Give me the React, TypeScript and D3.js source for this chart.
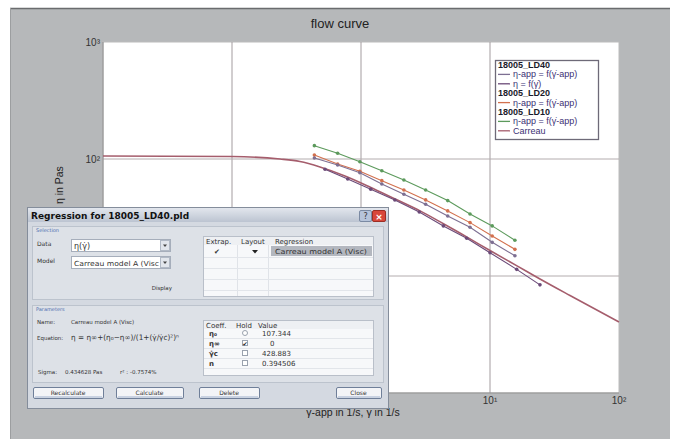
import React from 'react'
import * as d3 from 'd3'

// flow curve data (shear rate in 1/s, viscosity in Pa s)
const shearApp = [0.435, 0.659, 0.98, 1.45, 2.15, 3.17, 4.7, 7.0, 10.4, 15.6]
const etaLD10 = [130, 112, 94.8, 79.4, 66.2, 54.4, 44.1, 33.9, 26.8, 20.2]
const etaLD20 = [108, 90.6, 78.5, 65.3, 54.4, 44.7, 36.0, 28.6, 22.0, 16.9]
const etaLD40App = [102, 88.9, 76.4, 61.1, 50.0, 41.0, 32.6, 26.1, 19.4, 14.9]
const shearLD40True = [0.526, 0.789, 1.19, 1.83, 2.83, 4.35, 6.6, 10.0, 16.1, 24.4]
const etaLD40True = [81.7, 67.5, 55.1, 44.6, 35.2, 26.8, 21.0, 15.8, 11.4, 8.4]
const carreauShear = [0.01, 0.1, 0.236, 0.336, 0.481, 0.751, 1.17, 1.84, 2.87, 4.32, 6.64, 10, 16.2, 24.4, 41.7, 100]
const carreauEta = [106, 105, 100, 95.2, 85.5, 71.6, 57.7, 45.5, 36.0, 28.1, 21.5, 16.5, 12.2, 9.43, 6.81, 4.04]

// the 10^-2 corner label sits under the dialog, only the decades that show are labelled
const xGridExps = [-1, 0, 1]
const xTickExps = [-1, 0, 1, 2]
const yGridExps = [1, 2]
const yTickExps = [1, 2, 3]

const coeffNames = ['η₀', 'η∞', 'γ̇c', 'n']
const coeffHold = ['radio', 'checked', 'box', 'box']
const coeffValues = ['107.344', '0', '428.883', '0.394506']

const COLOR_LD10 = '#5c9a5c'
const COLOR_LD20 = '#d2704e'
const COLOR_LD40_APP = '#7d6f92'
const COLOR_LD40 = '#6b4a78'
const COLOR_CARREAU = '#a55d6c'

const PLOT = { left: 103, right: 619, top: 42, bottom: 393 }

const SUP: Record<string, string> = { '-': '⁻', '0': '⁰', '1': '¹', '2': '²', '3': '³' }
const sup = (n: number) => String(n).split('').map((c) => SUP[c]).join('')

const series = [
  { x: shearApp, y: etaLD10, color: COLOR_LD10 },
  { x: shearApp, y: etaLD20, color: COLOR_LD20 },
  { x: shearApp, y: etaLD40App, color: COLOR_LD40_APP },
  { x: shearLD40True, y: etaLD40True, color: COLOR_LD40 },
]

const legendRows = [
  { text: '18005_LD40', header: true, color: '' },
  { text: 'η-app = f(γ̇-app)', header: false, color: COLOR_LD40_APP },
  { text: 'η = f(γ̇)', header: false, color: COLOR_LD40 },
  { text: '18005_LD20', header: true, color: '' },
  { text: 'η-app = f(γ̇-app)', header: false, color: COLOR_LD20 },
  { text: '18005_LD10', header: true, color: '' },
  { text: 'η-app = f(γ̇-app)', header: false, color: COLOR_LD10 },
  { text: 'Carreau', header: false, color: COLOR_CARREAU },
]

const FONT = "'Liberation Sans', Arial, sans-serif"
const UI = "'DejaVu Sans', Tahoma, sans-serif"

function Chart() {
  const x = d3.scaleLog().domain([0.01, 100]).range([PLOT.left, PLOT.right])
  const y = d3.scaleLog().domain([1, 1000]).range([PLOT.bottom, PLOT.top])
  const line = d3.line<[number, number]>()
    .x((d) => x(d[0]))
    .y((d) => y(d[1]))
  const smooth = d3.line<[number, number]>()
    .x((d) => x(d[0]))
    .y((d) => y(d[1]))
    .curve(d3.curveMonotoneX)
  const carreau = carreauShear.map((g, i) => [g, carreauEta[i]] as [number, number])

  return (<g>
    <rect x={10} y={8} width={660} height={431} fill={'#b6b8ba'} />
    <line x1={10} x2={670} y1={8.5} y2={8.5} stroke={'#6a6c6e'} strokeWidth={1.5} />
    <line x1={10.5} x2={10.5} y1={8} y2={439} stroke={'#9c9ea0'} />
    <text x={340} y={28} textAnchor={'middle'} fontFamily={FONT} fontSize={13} fill={'#222'}>flow curve</text>

    <rect x={PLOT.left} y={PLOT.top} width={PLOT.right - PLOT.left} height={PLOT.bottom - PLOT.top}
      fill={'#fff'} stroke={'#bcbcbc'} />

    {xGridExps.map((e) => (
      <line key={'gx' + e} x1={x(10 ** e)} x2={x(10 ** e)} y1={PLOT.top} y2={PLOT.bottom}
        stroke={'#a39c9f'} strokeWidth={1} />
    ))}
    {yGridExps.map((e) => (
      <line key={'gy' + e} x1={PLOT.left} x2={PLOT.right} y1={y(10 ** e)} y2={y(10 ** e)}
        stroke={'#b3acae'} strokeWidth={1} />
    ))}
    <line x1={PLOT.left} x2={PLOT.right} y1={PLOT.bottom} y2={PLOT.bottom} stroke={'#8f8f8f'} />
    <line x1={PLOT.left} x2={PLOT.left} y1={PLOT.top} y2={PLOT.bottom} stroke={'#8f8f8f'} />

    {xTickExps.map((e) => (
      <text key={'tx' + e} x={x(10 ** e)} y={404} textAnchor={'middle'} fontFamily={FONT}
        fontSize={10} fill={'#333'}>{'10' + sup(e)}</text>
    ))}
    {yTickExps.map((e) => (
      <text key={'ty' + e} x={PLOT.left - 3} y={y(10 ** e) + 4} textAnchor={'end'} fontFamily={FONT}
        fontSize={10} fill={'#333'}>{'10' + sup(e)}</text>
    ))}
    <text x={353} y={416} textAnchor={'middle'} fontFamily={FONT} fontSize={10.5} fill={'#222'}>
      γ̇-app in 1/s, γ̇ in 1/s
    </text>
    <text transform={`translate(63,${(PLOT.top + PLOT.bottom) / 2}) rotate(-90)`} textAnchor={'middle'}
      fontFamily={FONT} fontSize={10.5} fill={'#222'}>η-app in Pas, η in Pas</text>

    <path d={smooth(carreau) || ''} fill={'none'} stroke={COLOR_CARREAU} strokeWidth={1.6} />
    {series.map((s, si) => {
      const pts = s.x.map((g, i) => [g, s.y[i]] as [number, number])
      return (<g key={'s' + si}>
        <path d={line(pts) || ''} fill={'none'} stroke={s.color} strokeWidth={1.1} />
        {pts.map((p, i) => (
          <circle key={i} cx={x(p[0])} cy={y(p[1])} r={1.8} fill={s.color} />
        ))}
      </g>)
    })}

    <rect x={495.5} y={60.5} width={103} height={79} fill={'#fff'} stroke={'#6e6a78'} strokeWidth={1.3} />
    {legendRows.map((r, i) => {
      const ry = 68 + i * 9.4
      if (r.header) {
        return (<text key={i} x={498} y={ry} fontFamily={FONT} fontSize={9} fontWeight={'bold'}
          fill={'#1a1a2a'}>{r.text}</text>)
      }
      return (<g key={i}>
        <line x1={498} x2={510} y1={ry - 3} y2={ry - 3} stroke={r.color} strokeWidth={1.3} />
        <text x={513} y={ry} fontFamily={FONT} fontSize={9} fill={'#3b2f74'}>{r.text}</text>
      </g>)
    })}
  </g>)
}

function Button({ x, w, label }: { x: number, w: number, label: string }) {
  return (<g>
    <rect x={x + 0.5} y={387.5} width={w} height={11} rx={1.5} fill={'#f3f4f7'} stroke={'#6f7f99'} />
    <line x1={x + 2} x2={x + w - 1} y1={397} y2={397} stroke={'#9fb0cc'} />
    <text x={x + w / 2} y={395} textAnchor={'middle'} fontFamily={UI} fontSize={6} fill={'#333'}>{label}</text>
  </g>)
}

function Dialog() {
  const rowLines1 = [257, 268, 279, 290]
  const rowY2 = [335, 345, 355, 365]
  return (<g>
    <rect x={27.5} y={207.5} width={361} height={201} fill={'#d4d9e1'} stroke={'#848d9b'} />
    <defs>
      <linearGradient id={'tb'} x1={0} x2={0} y1={0} y2={1}>
        <stop offset={'0%'} stopColor={'#e2e6ed'} />
        <stop offset={'100%'} stopColor={'#bcc4d1'} />
      </linearGradient>
    </defs>
    <rect x={28} y={208} width={360} height={14} fill={'url(#tb)'} />
    <text x={31} y={219} fontFamily={UI} fontSize={9} fontWeight={'bold'} fill={'#111'}>
      Regression for 18005_LD40.pld
    </text>
    <rect x={359.5} y={210.5} width={12} height={11} rx={1.5} fill={'#b7c4da'} stroke={'#7b8aa3'} />
    <text x={365.5} y={219} textAnchor={'middle'} fontFamily={UI} fontSize={8} fill={'#333'}>?</text>
    <rect x={372.5} y={210.5} width={13} height={11} rx={1.5} fill={'#d8473b'} stroke={'#9c2e24'} />
    <text x={379} y={219.5} textAnchor={'middle'} fontFamily={UI} fontSize={9} fontWeight={'bold'} fill={'#fff'}>×</text>

    {/* selection group */}
    <rect x={32.5} y={226.5} width={351} height={73} fill={'#dde1e7'} stroke={'#bcc3cd'} />
    <text x={36} y={232} fontFamily={UI} fontSize={5} fill={'#4b6cae'}>Selection</text>
    <text x={37} y={246} fontFamily={UI} fontSize={6} fill={'#333'}>Data</text>
    <rect x={71.5} y={239.5} width={99} height={12} fill={'#fff'} stroke={'#a6aebb'} />
    <text x={74} y={248.5} fontFamily={UI} fontSize={8} fill={'#333'}>η(γ̇)</text>
    <rect x={160.5} y={240.5} width={9} height={10} fill={'#e2e6ec'} stroke={'#b2bac6'} />
    <path d={'M163,244.5 L167,244.5 L165,247 Z'} fill={'#444'} />
    <text x={37} y={263} fontFamily={UI} fontSize={6} fill={'#333'}>Model</text>
    <rect x={71.5} y={256.5} width={99} height={12} fill={'#fff'} stroke={'#a6aebb'} />
    <text x={74} y={265.5} fontFamily={UI} fontSize={7} fill={'#333'} textLength={85}
      lengthAdjust={'spacingAndGlyphs'}>Carreau model A (Visc</text>
    <rect x={160.5} y={257.5} width={9} height={10} fill={'#e2e6ec'} stroke={'#b2bac6'} />
    <path d={'M163,261.5 L167,261.5 L165,264 Z'} fill={'#444'} />
    <text x={172} y={290} textAnchor={'end'} fontFamily={UI} fontSize={5.5} fill={'#333'}>Display</text>

    <rect x={203.5} y={236.5} width={170} height={60} fill={'#f7f8fa'} stroke={'#b9bfc9'} />
    <rect x={204} y={237} width={169} height={8} fill={'#eef0f3'} />
    <text x={206} y={243.5} fontFamily={UI} fontSize={7} fill={'#333'}>Extrap.</text>
    <text x={241} y={243.5} fontFamily={UI} fontSize={7} fill={'#333'}>Layout</text>
    <text x={275} y={243.5} fontFamily={UI} fontSize={7} fill={'#333'}>Regression</text>
    <line x1={237.5} x2={237.5} y1={245} y2={296} stroke={'#e0e3e8'} />
    <line x1={268.5} x2={268.5} y1={245} y2={296} stroke={'#e0e3e8'} />
    {rowLines1.map((ly) => (
      <line key={ly} x1={204} x2={373} y1={ly + 0.5} y2={ly + 0.5} stroke={'#e2e5ea'} />
    ))}
    <text x={214} y={254} fontFamily={UI} fontSize={7} fill={'#333'}>✔</text>
    <path d={'M252,250 L258,250 L255,253.5 Z'} fill={'#222'} />
    <rect x={271} y={246} width={101} height={10} fill={'#b3b7bf'} />
    <text x={275} y={254} fontFamily={UI} fontSize={7} fill={'#333'} textLength={92}
      lengthAdjust={'spacingAndGlyphs'}>Carreau model A (Visc)</text>

    {/* parameters group */}
    <rect x={32.5} y={305.5} width={351} height={77} fill={'#dde1e7'} stroke={'#bcc3cd'} />
    <text x={36} y={311} fontFamily={UI} fontSize={5} fill={'#4b6cae'}>Parameters</text>
    <text x={37} y={324} fontFamily={UI} fontSize={5.5} fill={'#333'}>Name:</text>
    <text x={71} y={324} fontFamily={UI} fontSize={5.5} fill={'#333'}>Carreau model A (Visc)</text>
    <text x={37} y={340} fontFamily={UI} fontSize={5.5} fill={'#333'}>Equation:</text>
    <text x={71} y={340} fontFamily={UI} fontSize={7.5} fill={'#333'} textLength={108}
      lengthAdjust={'spacingAndGlyphs'}>η = η∞+(η₀−η∞)/(1+(γ̇/γ̇c)²)ⁿ</text>
    <text x={38} y={374} fontFamily={UI} fontSize={5.5} fill={'#333'}>Sigma:</text>
    <text x={65} y={374} fontFamily={UI} fontSize={5.5} fill={'#333'}>0.434628 Pas</text>
    <text x={120} y={374} fontFamily={UI} fontSize={5.5} fill={'#333'}>r² :</text>
    <text x={130} y={374} fontFamily={UI} fontSize={5.5} fill={'#333'}>-0.7574%</text>

    <rect x={203.5} y={320.5} width={170} height={55} fill={'#f7f8fa'} stroke={'#b9bfc9'} />
    <rect x={204} y={321} width={169} height={8} fill={'#eef0f3'} />
    <text x={206} y={327.5} fontFamily={UI} fontSize={7} fill={'#333'}>Coeff.</text>
    <text x={236} y={327.5} fontFamily={UI} fontSize={7} fill={'#333'}>Hold</text>
    <text x={258} y={327.5} fontFamily={UI} fontSize={7} fill={'#333'}>Value</text>
    {rowY2.map((ry, i) => (<g key={i}>
      <line x1={204} x2={373} y1={ry + 3.5} y2={ry + 3.5} stroke={'#e2e5ea'} />
      <text x={209} y={ry + 1} fontFamily={UI} fontSize={7} fontWeight={'bold'} fill={'#333'}>{coeffNames[i]}</text>
      {coeffHold[i] === 'radio'
        ? <circle cx={245} cy={ry - 2} r={2.5} fill={'#fff'} stroke={'#9aa2ae'} />
        : <rect x={242.5} y={ry - 4.5} width={5} height={5} fill={'#fff'} stroke={'#9aa2ae'} />}
      {coeffHold[i] === 'checked' &&
        <text x={242.5} y={ry + 0.5} fontFamily={UI} fontSize={6} fill={'#222'}>✔</text>}
      <text x={coeffValues[i] === '0' ? 270 : 262} y={ry + 1} fontFamily={UI} fontSize={7} fill={'#333'}>
        {coeffValues[i]}
      </text>
    </g>))}

    <Button x={33} w={70} label={'Recalculate'} />
    <Button x={116} w={67} label={'Calculate'} />
    <Button x={199} w={60} label={'Delete'} />
    <Button x={336} w={45} label={'Close'} />
  </g>)
}

export default function App() {
  return (<svg width={677} height={439} style={{ position: 'absolute', left: 0, top: 0 }}>
    <rect width={677} height={439} fill={'#fff'} />
    <Chart />
    <Dialog />
  </svg>)
}
